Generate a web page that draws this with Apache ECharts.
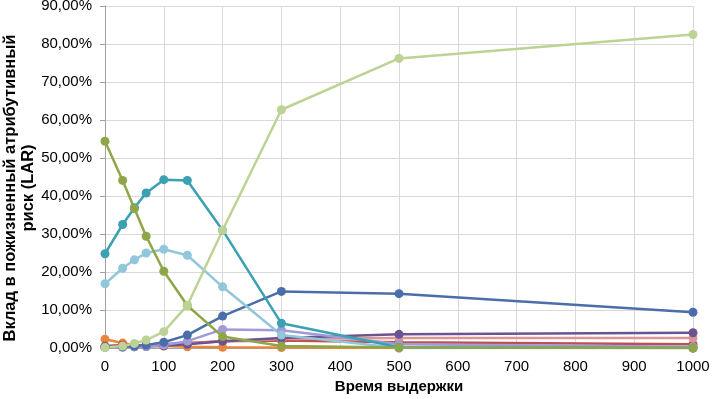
<!DOCTYPE html>
<html>
<head>
<meta charset="utf-8">
<script src="https://cdn.jsdelivr.net/npm/echarts@6/dist/echarts.min.js"></script>
<style>
  html, body { margin: 0; padding: 0; background: #fff; }
  #chart { width: 712px; height: 399px; }
</style>
</head>
<body>
<div id="chart"></div>
<script>
// время выдержки
var times = [0, 30, 50, 70, 100, 140, 200, 300, 500, 1000];

// вклад в LAR, %
var darkBlue  = [0.3, 0.3, 0.5, 0.8, 1.5, 3.4, 8.4, 14.9, 14.3, 9.4];
var red       = [0.5, 0.8, 0.6, 0.8, 1.0, 1.3, 1.8, 2.0, 1.5, 1.0];
var olive     = [54.4, 44.1, 36.7, 29.4, 20.2, 11.2, 3.0, 0.5, 0.1, 0.0];
var purple    = [0.2, 0.3, 0.3, 0.4, 0.6, 1.0, 1.8, 2.6, 3.6, 4.0];
var teal      = [24.8, 32.5, 36.9, 40.8, 44.3, 44.1, 31.0, 6.5, 0.2, 0.0];
var orange    = [2.3, 1.3, 0.8, 0.6, 0.5, 0.3, 0.2, 0.1, 0.0, 0.0];
var lightBlue = [16.9, 21.0, 23.2, 25.0, 26.0, 24.4, 16.1, 3.4, 0.0, 0.0];
var pink      = [0.2, 0.3, 0.4, 0.5, 0.8, 1.2, 1.8, 2.4, 2.6, 2.6];
var lightGreen = [0.1, 0.5, 1.2, 2.1, 4.3, 11.2, 31.0, 62.7, 76.2, 82.5];
var lavender  = [0.2, 0.2, 0.3, 0.4, 0.8, 1.8, 4.9, 4.7, 1.0, 0.3];

var yTicks = { min: 0, max: 90, step: 10 };
var xTicks = { min: 0, max: 1000, step: 100 };

var chart = echarts.init(document.getElementById('chart'));

var makeSeries = function(values, color) {
    var pts = [];
    for (var i = 0; i < times.length; i++) {
        pts.push([times[i], values[i]]);
    }
    return {
        type: 'line',
        data: pts,
        symbol: 'circle',
        symbolSize: 9,
        color: color,
        lineStyle: { width: 2.5, color: color },
        itemStyle: { color: color },
        animation: false
    };
};

var option = {
    animation: false,
    grid: {
        left: 105,
        right: 19,
        top: 6,
        bottom: 51,
        containLabel: false,
        outerBoundsMode: 'none'
    },
    // подпись оси Y (две строки, по центру)
    graphic: [{
        type: 'text',
        x: 19,
        y: 188,
        rotation: Math.PI / 2,
        style: {
            text: 'Вклад в пожизненный атрибутивный\nриск (LAR)',
            textAlign: 'center',
            textVerticalAlign: 'middle',
            fill: '#000',
            fontSize: 16.5,
            fontWeight: 'bold',
            fontFamily: 'Liberation Sans',
            lineHeight: 18
        }
    }],
    xAxis: {
        type: 'value',
        min: xTicks.min,
        max: xTicks.max,
        interval: xTicks.step,
        name: 'Время выдержки',
        nameLocation: 'middle',
        nameGap: 31,
        nameTextStyle: {
            color: '#000',
            fontSize: 15,
            fontWeight: 'bold',
            fontFamily: 'Liberation Sans'
        },
        axisLine: { lineStyle: { color: '#a0a0a0' } },
        axisTick: { show: false },
        axisLabel: {
            color: '#000',
            fontSize: 15,
            fontFamily: 'Liberation Sans',
            margin: 11,
            formatter: function(v) { return String(v); }
        },
        splitLine: { lineStyle: { color: '#d9d9d9' } }
    },
    yAxis: {
        type: 'value',
        min: yTicks.min,
        max: yTicks.max,
        interval: yTicks.step,
        axisLine: { show: true, lineStyle: { color: '#a0a0a0' } },
        axisTick: { show: true, length: 5, lineStyle: { color: '#a0a0a0' } },
        axisLabel: {
            color: '#000',
            fontSize: 15,
            fontFamily: 'Liberation Sans',
            margin: 13,
            formatter: function(v) {
                return v.toFixed(2).replace('.', ',') + '%';
            }
        },
        splitLine: { lineStyle: { color: '#d9d9d9' } }
    },
    series: [
        makeSeries(orange, '#e8863f'),
        makeSeries(red, '#c0504d'),
        makeSeries(pink, '#d99694'),
        makeSeries(purple, '#6b5291'),
        makeSeries(lavender, '#a09ad6'),
        makeSeries(darkBlue, '#4a6eaa'),
        makeSeries(lightBlue, '#92c6da'),
        makeSeries(teal, '#3aa0b2'),
        makeSeries(olive, '#8ea648'),
        makeSeries(lightGreen, '#bcd395')
    ]
};

chart.setOption(option);
</script>
</body>
</html>
